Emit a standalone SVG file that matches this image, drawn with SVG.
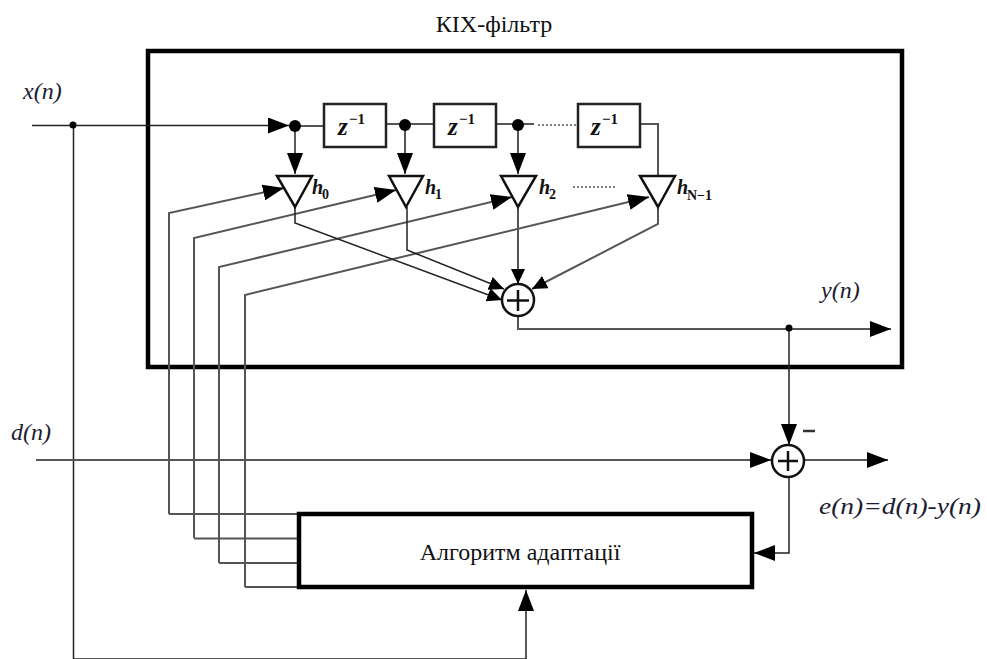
<svg xmlns="http://www.w3.org/2000/svg" width="987" height="659" viewBox="0 0 987 659">
<style>
.frame{fill:#fff;stroke:#000;stroke-width:4.5}
.w{fill:none;stroke:#222;stroke-width:1.5}
.g{fill:none;stroke:#555;stroke-width:2}
.d{fill:none;stroke:#555;stroke-width:1.5;stroke-dasharray:2 2}
.box{fill:#fff;stroke:#222;stroke-width:2.5}
.tri{fill:#fff;stroke:#111;stroke-width:2.5;stroke-linejoin:miter}
.sum{fill:#fff;stroke:#111;stroke-width:2.5}
.ah{fill:#000}
.t{font-family:"Liberation Serif",serif;fill:#111}
.i{font-family:"Liberation Serif",serif;font-style:italic;fill:#1c1c30;font-size:24px}
.z{font-family:"Liberation Serif",serif;font-style:italic;font-weight:bold;font-size:25px;fill:#111}
.s{font-family:"Liberation Serif",serif;font-weight:bold;fill:#111;font-size:15px}
.h{font-family:"Liberation Serif",serif;font-style:italic;font-weight:bold;font-size:20px;fill:#111}
.sb{font-family:"Liberation Serif",serif;font-weight:bold;font-size:14px;fill:#111}
</style>
<defs>
<marker id="a" markerUnits="userSpaceOnUse" markerWidth="22" markerHeight="16" refX="21" refY="8" orient="auto"><path class="ah" d="M0 0L21 8L0 16Z"/></marker>
<marker id="b" markerUnits="userSpaceOnUse" markerWidth="16" markerHeight="14" refX="15" refY="7" orient="auto"><path class="ah" d="M0 0L15 7L0 14Z"/></marker>
</defs>
<g id="fir-filter"><rect class="frame" x="148" y="51" width="754" height="316"/>
<text class="t" x="494" y="32" font-size="24" text-anchor="middle">КІХ-фільтр</text></g>
<g id="connectors">
<path class="w" d="M32 125.500H289" marker-end="url(#a)"/>
<path class="w" d="M73.500 125.500V659H526"/>
<path class="g" d="M295 126H324M387 124H434M497 124H534M641 124H658V177"/>
<path class="d" d="M538 125H578M573 187H617"/>
<path class="w" d="M295 126V174" marker-end="url(#a)"/>
<path class="g" d="M405 125V174" marker-end="url(#a)"/>
<path class="g" d="M518 125V174" marker-end="url(#a)"/>
<path class="g" d="M169 514H299M194 538.500H299M219 563H299M245 587H299"/>
<path class="g" d="M169 514V213L284 188" marker-end="url(#a)"/>
<path class="g" d="M194 538V238L396 190" marker-end="url(#a)"/>
<path class="g" d="M219 563V267L512 197" marker-end="url(#a)"/>
<path class="g" d="M245 587V295L649 197" marker-end="url(#a)"/>
<path class="w" d="M295 207V223L502 300" marker-end="url(#b)"/>
<path class="w" d="M407 207V250L504 289" marker-end="url(#b)"/>
<path class="g" d="M518 207V284" marker-end="url(#b)"/>
<path class="g" d="M658 207V224L532 289" marker-end="url(#b)"/>
<path class="g" d="M518 316V329H891" marker-end="url(#a)"/>
<path class="w" d="M789 329V445" marker-end="url(#a)"/>
<path class="g" d="M36 460H771" marker-end="url(#a)"/>
<path class="g" d="M805 460H888" marker-end="url(#a)"/>
<path class="w" d="M789 478V553H754" marker-end="url(#a)"/>
<path class="w" d="M526 659V590" marker-end="url(#a)"/>
<circle cx="73" cy="125" r="3.500"/><circle cx="789" cy="328" r="3.500"/>
</g>
<g id="tap0"><circle cx="295" cy="126" r="6"/><path class="tri" d="M277 176H312L295 207Z"/><text class="h" x="312" y="194">h</text><text class="sb" x="322" y="199">0</text></g>
<g id="tap1"><circle cx="405" cy="125" r="6"/><path class="tri" d="M389 176H423L406 207Z"/><text class="h" x="425" y="194">h</text><text class="sb" x="435" y="199">1</text></g>
<g id="tap2"><circle cx="518" cy="125" r="6"/><path class="tri" d="M501 176H536L518 207Z"/><text class="h" x="539" y="194">h</text><text class="sb" x="549" y="199">2</text></g>
<g id="tapN"><path class="tri" d="M640 176H675L658 207Z"/><text class="h" x="677" y="194">h</text><text class="sb" x="687" y="200">N−1</text></g>
<g id="delay1"><rect class="box" x="324" y="104" width="62" height="43"/><text class="z" x="338" y="135">z</text><text class="s" x="349" y="124">−1</text></g>
<g id="delay2"><rect class="box" x="434" y="104" width="62" height="43"/><text class="z" x="448" y="135">z</text><text class="s" x="459" y="124">−1</text></g>
<g id="delay3"><rect class="box" x="578" y="104" width="62" height="43"/><text class="z" x="591" y="135">z</text><text class="s" x="602" y="124">−1</text></g>
<g id="sum1"><circle class="sum" cx="518" cy="300" r="16"/><path fill="none" stroke="#111" stroke-width="2.500" d="M507 300.500H529M518 290V311"/></g>
<g id="sum2"><circle class="sum" cx="788" cy="461" r="16"/><path fill="none" stroke="#111" stroke-width="2.500" d="M778 461H798M788 451V471"/><path stroke="#333" stroke-width="2.500" d="M803 431H815"/></g>
<g id="algorithm"><rect class="frame" x="299" y="514" width="453" height="73"/><text class="t" x="520" y="560" font-size="24" text-anchor="middle">Алгоритм адаптації</text></g>
<g id="labels">
<text class="i" x="23" y="99">x(n)</text>
<text class="i" x="11" y="440">d(n)</text>
<text class="i" x="821" y="298">y(n)</text>
<text class="i" x="819" y="514" textLength="162" lengthAdjust="spacingAndGlyphs">e(n)=d(n)-y(n)</text>
</g>
</svg>
